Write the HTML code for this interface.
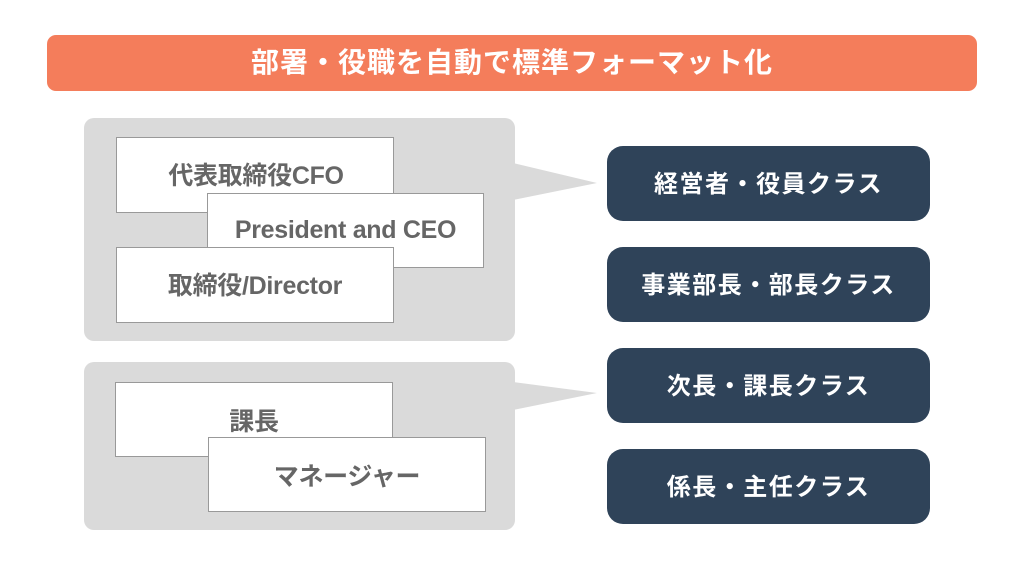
<!DOCTYPE html>
<html><head><meta charset="utf-8"><style>
body{margin:0;width:1030px;height:580px;background:#fff;position:relative;overflow:hidden;font-family:"Liberation Sans","Noto Sans CJK JP",sans-serif;font-weight:bold}
.a{position:absolute;box-sizing:border-box}
.t{background:#f47d5b;border-radius:9px;color:#fff;font-size:28px;display:flex;align-items:center;justify-content:center;letter-spacing:1px;padding-bottom:4px}
.p{background:#dadada;border-radius:10px}
.b{background:#fff;border:1px solid #999;color:#666;font-size:25px;display:flex;align-items:center;justify-content:center;letter-spacing:-0.3px}
.r{background:#2f4359;border-radius:16px;color:#fff;font-size:24px;display:flex;align-items:center;justify-content:center;letter-spacing:1.5px;padding-bottom:5px}
</style></head><body>
<div class="a t" style="left:47px;top:35px;width:930px;height:56px">部署・役職を自動で標準フォーマット化</div>
<div class="a p" style="left:84px;top:118px;width:431px;height:223px"></div>
<div class="a p" style="left:84px;top:362px;width:431px;height:168px"></div>
<svg class="a" style="left:0;top:0" width="1030" height="580"><polygon points="513,163 597,183 513,200" fill="#dadada"/><polygon points="513,382 597,393 513,410" fill="#dadada"/></svg>
<div class="a b" style="left:116px;top:137px;width:278px;height:76px;padding-bottom:2px;padding-left:2px">代表取締役CFO</div>
<div class="a b" style="left:207px;top:193px;width:277px;height:75px">President and CEO</div>
<div class="a b" style="left:116px;top:247px;width:278px;height:76px;padding-bottom:2px">取締役/Director</div>
<div class="a b" style="left:115px;top:382px;width:278px;height:75px;padding-top:1px">課長</div>
<div class="a b" style="left:208px;top:437px;width:278px;height:75px">マネージャー</div>
<div class="a r" style="left:607px;top:146px;width:323px;height:75px">経営者・役員クラス</div>
<div class="a r" style="left:607px;top:247px;width:323px;height:75px">事業部長・部長クラス</div>
<div class="a r" style="left:607px;top:348px;width:323px;height:75px">次長・課長クラス</div>
<div class="a r" style="left:607px;top:449px;width:323px;height:75px">係長・主任クラス</div>
</body></html>
